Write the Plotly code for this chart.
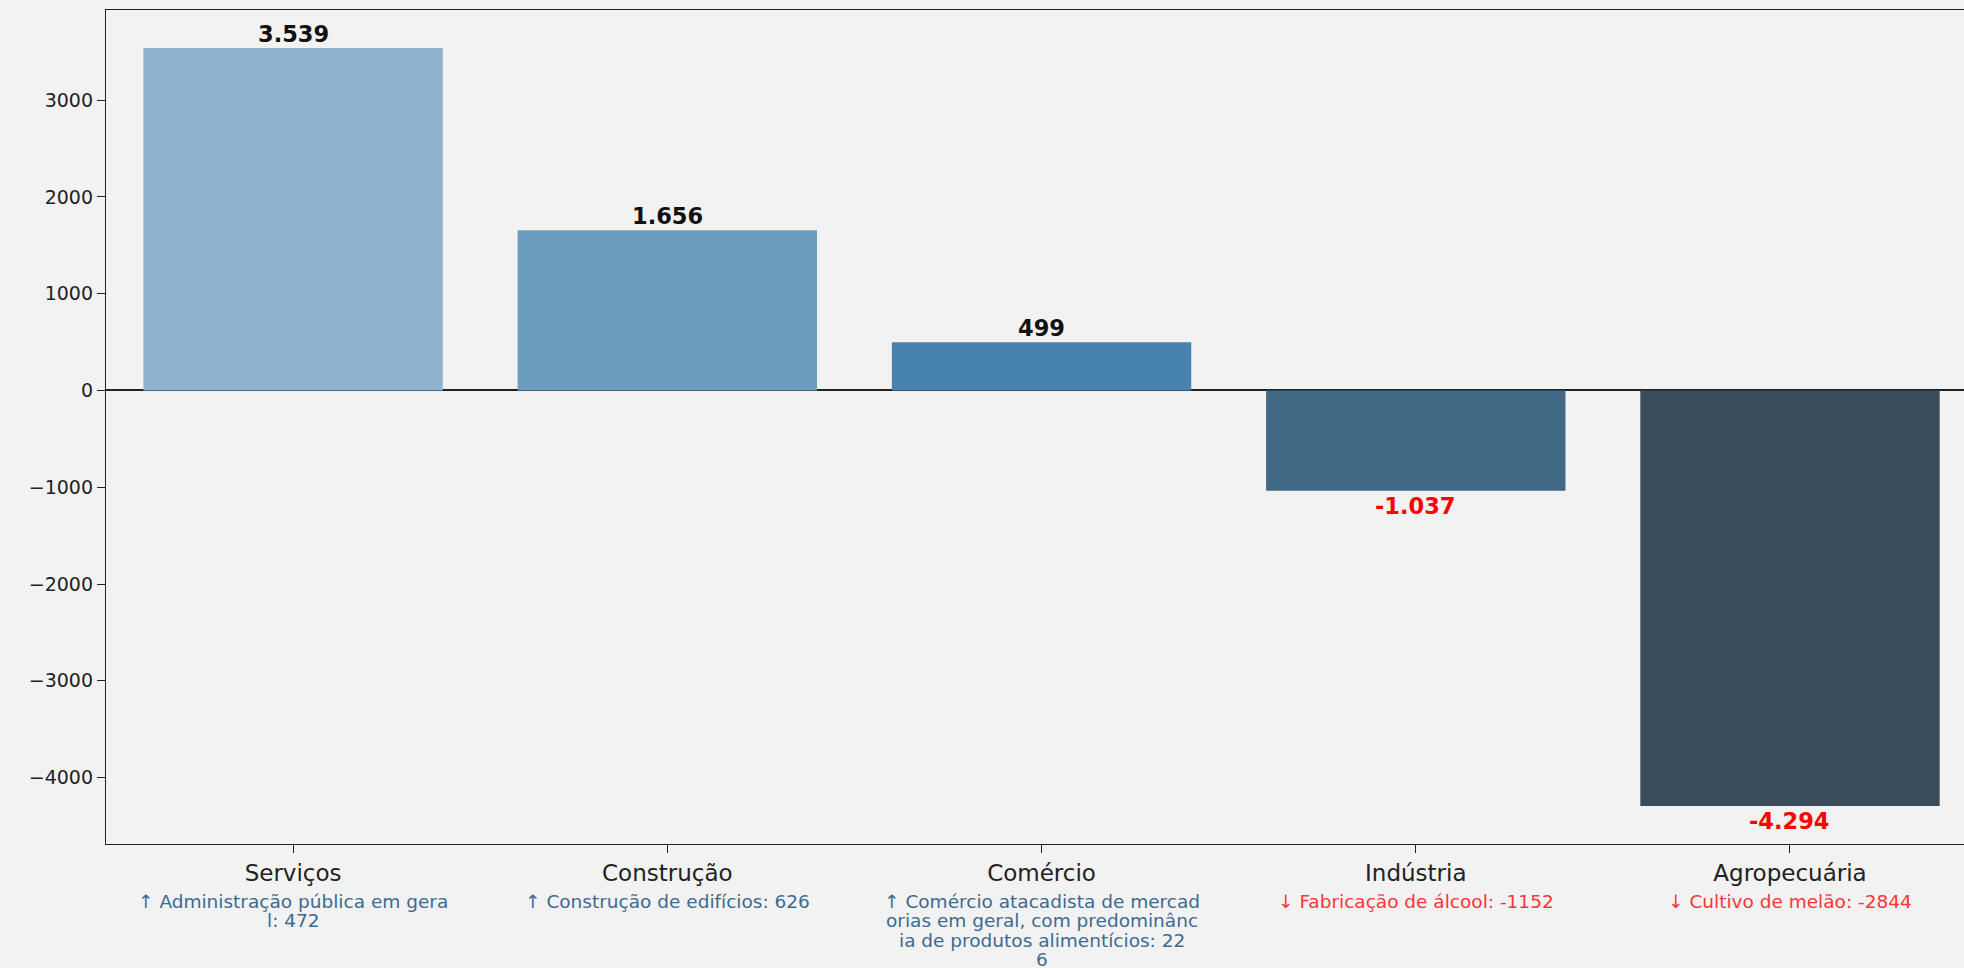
import plotly.graph_objects as go

# ---- data ----
setores = ["Serviços", "Construção", "Comércio", "Indústria", "Agropecuária"]
saldo = [3539, 1656, 499, -1037, -4294]
atividade_destaque = [
    "Administração pública em geral",
    "Construção de edifícios",
    "Comércio atacadista de mercadorias em geral, com predominância de produtos alimentícios",
    "Fabricação de álcool",
    "Cultivo de melão",
]
saldo_destaque = [472, 626, 226, -1152, -2844]
cores_barras = ["#8fb3ce", "#6b9dbf", "#4883b0", "#416884", "#3a4d5c"]
y_ticks = [-4000, -3000, -2000, -1000, 0, 1000, 2000, 3000]

FONT = "DejaVu Sans"
BG = "#f2f2f2"
AX = "#222222"


def fmt_br(v):
    return f"{v:,}".replace(",", ".")


def wrap_chunks(s, n=31):
    return [s[i:i + n] for i in range(0, len(s), n)]


xs = list(range(len(setores)))

fig = go.Figure()
fig.add_trace(go.Bar(
    x=xs, y=saldo, width=0.8,
    marker=dict(color=cores_barras, line=dict(width=0)),
    hoverinfo="skip", showlegend=False,
))

annotations = []
for i, v in enumerate(saldo):
    annotations.append(dict(
        x=i, y=v, xref="x", yref="y",
        text=f"<b>{fmt_br(v)}</b>", showarrow=False,
        yanchor="bottom" if v >= 0 else "top",
        yshift=-1 if v >= 0 else 0,
        font=dict(family=FONT, size=22.5, color="#111111" if v >= 0 else "#ff0000"),
    ))

for i, (a, d) in enumerate(zip(atividade_destaque, saldo_destaque)):
    seta = "↑" if d >= 0 else "↓"
    linhas = wrap_chunks(f"{seta} {a}: {d}")
    for k, linha in enumerate(linhas):
        annotations.append(dict(
            x=i, y=0, xref="x", yref="paper",
            text=linha, showarrow=False, yanchor="middle", xanchor="center",
            yshift=-(57 + 19.5 * k),
            font=dict(family=FONT, size=18.5, color="#3c6a93" if d >= 0 else "#ff3535"),
        ))

fig.update_layout(
    width=1964, height=968,
    margin=dict(l=106, r=0, t=10, b=124),
    paper_bgcolor=BG, plot_bgcolor=BG,
    annotations=annotations,
    xaxis=dict(
        range=[-0.5, 4.465],
        tickmode="array", tickvals=xs, ticktext=setores,
        showline=True, linecolor=AX, linewidth=1.3, mirror=True,
        ticks="outside", ticklen=8, tickcolor=AX, tickwidth=1.3,
        showgrid=False, zeroline=False,
        tickfont=dict(family=FONT, size=23, color=AX),
    ),
    yaxis=dict(
        range=[-4686, 3931],
        tickmode="array", tickvals=y_ticks,
        ticktext=[str(t).replace("-", "\u2212") for t in y_ticks],
        showline=True, linecolor=AX, linewidth=1.3, mirror=False,
        ticks="outside", ticklen=8, tickcolor=AX, tickwidth=1.3,
        showgrid=False, zeroline=True, zerolinecolor=AX, zerolinewidth=1.5,
        tickfont=dict(family=FONT, size=19, color=AX),
    ),
)

fig.write_html(
    "out.html",
    config={"displayModeBar": False},
    post_script="document.body.style.margin='0px';document.body.style.background='#f2f2f2';",
)
